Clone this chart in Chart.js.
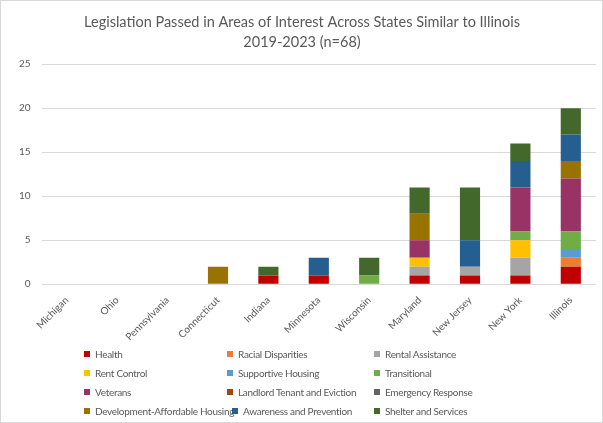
<!DOCTYPE html>
<html>
<head>
<meta charset="utf-8">
<script src="https://cdn.jsdelivr.net/npm/chart.js@4"></script>
<style>
  html, body { margin: 0; padding: 0; background: #fff; }
  #wrap { position: relative; width: 601px; height: 421px; border: 1px solid #d9d9d9; font-family: Lato, "Open Sans", sans-serif; }
  #legend { position: absolute; left: 83px; top: 346px; display: grid; grid-template-columns: 143px 147px 150px; row-gap: 5px; font-size: 10px; letter-spacing: -0.3px; color: #595959; }
  #legend div { display: flex; align-items: center; height: 14px; white-space: nowrap; min-width: 0; overflow: visible; }
  #legend div.shift { margin-left: 5px; }
  #legend span.box { display: inline-block; flex-shrink: 0; width: 6px; height: 6px; margin-right: 5px; }
</style>
</head>
<body>
<div id="wrap">
  <canvas id="chart" width="601" height="421"></canvas>
  <div id="legend"></div>
</div>
<script>
// states along the x axis
const states = ['Michigan', 'Ohio', 'Pennsylvania', 'Connecticut', 'Indiana', 'Minnesota', 'Wisconsin', 'Maryland', 'New Jersey', 'New York', 'Illinois'];

// number of bills per area, one value per state
const health         = [0, 0, 0, 0, 1, 1, 0, 1, 1, 1, 2];
const racial         = [0, 0, 0, 0, 0, 0, 0, 0, 0, 0, 1];
const rental         = [0, 0, 0, 0, 0, 0, 0, 1, 1, 2, 0];
const rentControl    = [0, 0, 0, 0, 0, 0, 0, 1, 0, 2, 0];
const supportive     = [0, 0, 0, 0, 0, 0, 0, 0, 0, 0, 1];
const transitional   = [0, 0, 0, 0, 0, 0, 1, 0, 0, 1, 2];
const veterans       = [0, 0, 0, 0, 0, 0, 0, 2, 0, 5, 6];
const landlord       = [0, 0, 0, 0, 0, 0, 0, 0, 0, 0, 0];
const emergency      = [0, 0, 0, 0, 0, 0, 0, 0, 0, 0, 0];
const devAffordable  = [0, 0, 0, 2, 0, 0, 0, 3, 0, 0, 2];
const awareness      = [0, 0, 0, 0, 0, 2, 0, 0, 3, 3, 3];
const shelter        = [0, 0, 0, 0, 1, 0, 2, 3, 6, 2, 3];

const yTicks = [0, 5, 10, 15, 20, 25];

const series = [
  ['Health', health, '#C00000'],
  ['Racial Disparities', racial, '#ED7D31'],
  ['Rental Assistance', rental, '#A5A5A5'],
  ['Rent Control', rentControl, '#FFC000'],
  ['Supportive Housing', supportive, '#5B9BD5'],
  ['Transitional', transitional, '#70AD47'],
  ['Veterans', veterans, '#993366'],
  ['Landlord Tenant and Eviction', landlord, '#9E480E'],
  ['Emergency Response', emergency, '#636363'],
  ['Development-Affordable Housing', devAffordable, '#997300'],
  ['Awareness and Prevention', awareness, '#255E91'],
  ['Shelter and Services', shelter, '#43682B']
];

const textColor = '#595959';
const fontFamily = 'Lato, "Open Sans", sans-serif';

const chart = new Chart(document.getElementById('chart').getContext('2d'), {
  type: 'bar',
  data: {
    labels: states,
    datasets: series.map(([label, values, color]) => ({
      label: label,
      data: values,
      backgroundColor: color,
      borderWidth: 0,
      barPercentage: 0.4,
      categoryPercentage: 1
    }))
  },
  options: {
    responsive: false,
    animation: false,
    layout: { padding: { left: 7, right: 6, top: 0, bottom: 77 } },
    plugins: {
      legend: { display: false },
      tooltip: { enabled: false },
      title: {
        display: true,
        text: ['Legislation Passed in Areas of Interest Across States Similar to Illinois', '2019-2023 (n=68)'],
        color: textColor,
        font: { family: fontFamily, size: 14.5, weight: 'normal', lineHeight: 1.35 },
        padding: { top: 12, bottom: 12 }
      }
    },
    scales: {
      x: {
        stacked: true,
        grid: { display: false },
        border: { display: false },
        ticks: {
          color: textColor,
          font: { family: fontFamily, size: 10 },
          minRotation: 45,
          maxRotation: 45,
          padding: 2
        }
      },
      y: {
        stacked: true,
        min: 0,
        max: 25,
        afterBuildTicks: (axis) => { axis.ticks = yTicks.map(v => ({ value: v })); },
        grid: { color: '#d9d9d9', drawTicks: false },
        border: { display: false },
        ticks: {
          color: textColor,
          font: { family: fontFamily, size: 10 },
          padding: 11
        }
      }
    }
  }
});

// legend in three columns, built from the chart's datasets
const legendEl = document.getElementById('legend');
chart.data.datasets.forEach((ds, i) => {
  const item = document.createElement('div');
  // the entry after the long "Development-Affordable Housing" label sits a little further right
  if (i === 10) item.className = 'shift';
  const box = document.createElement('span');
  box.className = 'box';
  box.style.background = ds.backgroundColor;
  item.appendChild(box);
  item.appendChild(document.createTextNode(ds.label));
  legendEl.appendChild(item);
});
</script>
</body>
</html>
